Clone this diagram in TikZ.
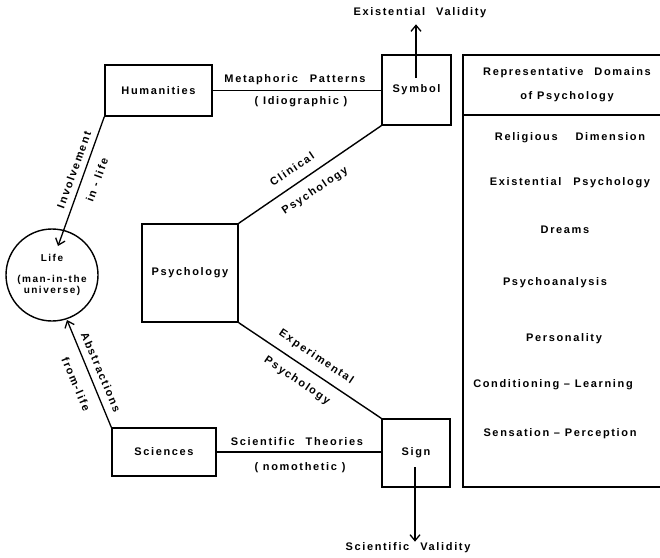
\documentclass[tikz,border=0pt]{standalone}
\usepackage{fontspec}
\setmainfont{Liberation Sans}[LetterSpace=15]
\usetikzlibrary{arrows.meta}

\newcommand{\lettering}{\fontsize{11}{13}\selectfont\bfseries}

\begin{document}
\begin{tikzpicture}[
    x=1pt, y=-1pt,
    >=stealth,
    box/.style={
        rectangle,
        draw,
        line width=1.4pt,
        font=\lettering,
        inner sep=2pt
    },
    lbl/.style={
        font=\lettering,
        inner sep=1pt
    },
    conn/.style={
        line width=1.4pt
    },
    arr/.style={
        line width=1.3pt,
        -{Straight Barb[length=6pt,width=10pt]}
    }
]
\useasboundingbox (0,0) rectangle (660,557);

% boxes
\node[box, minimum width=107pt, minimum height=51pt] (hum) at (158.5,90.5) {Humanities};
\node[box, minimum width=69pt, minimum height=70pt] (sym) at (416.5,90) {Symbol};
\node[box, minimum width=96pt, minimum height=98pt] (psy) at (190,273) {Psychology};
\node[box, minimum width=104pt, minimum height=48pt] (sci) at (164,452) {Sciences};
\node[box, minimum width=68pt, minimum height=68pt] (sign) at (416,453) {Sign};
\node[box, circle, minimum size=92pt, align=center, font=\fontsize{10}{11}\selectfont\bfseries] (life) at (52,275)
    {Life\\[10pt](man-in-the\\universe)};

% ends of the arrows
\coordinate (lifetop) at (58,246);
\coordinate (lifebot) at (67,320);
\coordinate (symstub) at (416,78);
\coordinate (signstub) at (415,467);

\node[lbl] (exist) at (420,13) {Existential\quad Validity};
\node[lbl] (scival) at (408,548) {Scientific\quad Validity};

% connectors
\draw[conn] (hum.east) -- (hum.east -| sym.west);
\draw[conn] (sci.east) -- (sci.east -| sign.west);
\draw[conn] (psy.north east) -- (sym.south west);
\draw[conn] (psy.south east) -- (sign.north west);
\draw[arr] (hum.south west) -- (lifetop);
\draw[arr] (sci.north west) -- (lifebot);
\draw[arr, shorten >=5pt] (symstub) -- (symstub |- exist.south);
\draw[arr] (signstub) -- (signstub |- scival.north);

% labels
\node[lbl] (meta) at (295,80) {Metaphoric\hspace{12pt}Patterns};
\node[lbl] (idio) at (301,102) {( Idiographic )};
\node[lbl] (theo) at (297,442) {Scientific\quad Theories};
\node[lbl] (nomo) at (300,468) {( nomothetic )};
\node[lbl, rotate=34] (clin) at (292,169) {Clinical};
\node[lbl, rotate=34] (clinpsy) at (315,191) {Psychology};
\node[lbl, rotate=-34] (expt) at (316,357) {Experimental};
\node[lbl, rotate=-34] (exptpsy) at (297,381) {Psychology};
\node[lbl, rotate=70] (invol) at (74,170) {Involvement};
\node[lbl, rotate=70] (inlife) at (97,180) {in - life};
\node[lbl, rotate=-67] (abst) at (101,372) {Abstractions};
\node[lbl, rotate=-67] (fromlife) at (76,384) {from-life};

% domains table, open to the right
\coordinate (domtl) at (463,55);
\coordinate (domtr) at (660,55);
\coordinate (domhl) at (463,115);
\coordinate (domhr) at (660,115);
\coordinate (dombl) at (463,487);
\coordinate (dombr) at (660,487);
\draw[conn] (domtr) -- (domtl) -- (dombl) -- (dombr);
\draw[conn] (domhl) -- (domhr);
\node[lbl] (head1) at (567,73) {Representative\quad Domains};
\node[lbl] (head2) at (567,97) {of Psychology};
\node[lbl] (relig) at (570,138) {Religious\hspace{18pt}Dimension};
\node[lbl] (exis) at (570,183) {Existential\hspace{12pt}Psychology};
\node[lbl] (dream) at (565,230) {Dreams};
\node[lbl] (pana) at (555,283) {Psychoanalysis};
\node[lbl] (pers) at (564,339) {Personality};
\node[lbl] (cond) at (553,385) {Conditioning -- Learning};
\node[lbl] (sens) at (560,434) {Sensation -- Perception};

\end{tikzpicture}
\end{document}
